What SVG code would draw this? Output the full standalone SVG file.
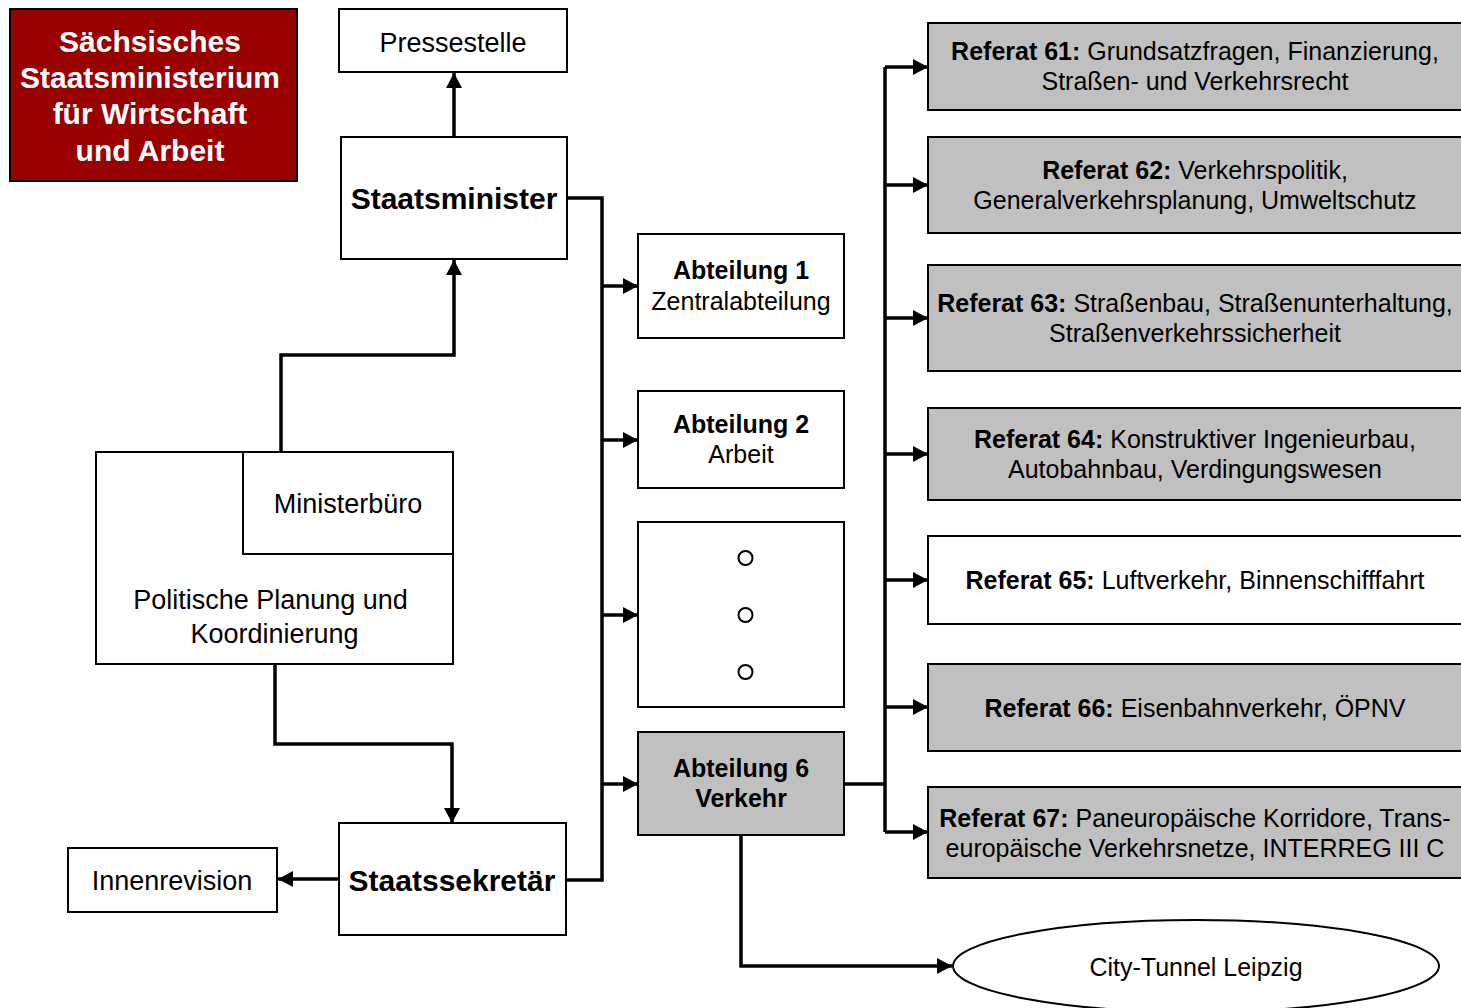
<svg xmlns="http://www.w3.org/2000/svg" width="1461" height="1008" viewBox="0 0 1461 1008">
  <style>
    text { font-family: "Liberation Sans", Arial, sans-serif; fill: #000; text-anchor: middle; }
    .box { fill: #fff; stroke: #000; stroke-width: 2; }
    .grey { fill: #c0c0c0; stroke: #000; stroke-width: 2; }
    .title { fill: #990000; stroke: #000; stroke-width: 2; }
    .t30b { font-size: 30px; font-weight: bold; }
    .t27 { font-size: 27px; }
    .t25 { font-size: 25px; }
    .b { font-weight: bold; }
    .white { fill: #fff; }
    .link { fill: none; stroke: #000; stroke-width: 3.5; stroke-linejoin: miter; }
    .dot { fill: #fff; stroke: #000; stroke-width: 2; }
  </style>
  <defs>
    <marker id="arrow" markerUnits="userSpaceOnUse" markerWidth="16" markerHeight="16" refX="15" refY="8" orient="auto">
      <path d="M0,0 L15,8 L0,16 z" fill="#000"/>
    </marker>
  </defs>

  <rect width="1461" height="1008" fill="#fff"/>

  <!-- connectors -->
  <g id="connectors">
    <!-- Staatsminister to Pressestelle -->
    <path class="link" d="M454,137 L454,73" marker-end="url(#arrow)"/>
    <!-- Ministerbüro up to Staatsminister -->
    <path class="link" d="M281,452 L281,355 L454,355 L454,260" marker-end="url(#arrow)"/>
    <!-- Politische Planung down to Staatssekretär -->
    <path class="link" d="M275,664 L275,744 L452,744 L452,823" marker-end="url(#arrow)"/>
    <!-- Staatssekretär to Innenrevision -->
    <path class="link" d="M339,879 L278,879" marker-end="url(#arrow)"/>
    <!-- main bus to the departments -->
    <path class="link" d="M567,198 L602,198 L602,880 L566,880"/>
    <path class="link" d="M602,286 L638,286" marker-end="url(#arrow)"/>
    <path class="link" d="M602,440 L638,440" marker-end="url(#arrow)"/>
    <path class="link" d="M602,615 L638,615" marker-end="url(#arrow)"/>
    <path class="link" d="M602,784 L638,784" marker-end="url(#arrow)"/>
    <!-- Abteilung 6 bus to the Referate -->
    <path class="link" d="M844,784 L885,784"/>
    <path class="link" d="M885,832 L885,67"/>
    <path class="link" d="M885,67 L928,67" marker-end="url(#arrow)"/>
    <path class="link" d="M885,185 L928,185" marker-end="url(#arrow)"/>
    <path class="link" d="M885,318 L928,318" marker-end="url(#arrow)"/>
    <path class="link" d="M885,454 L928,454" marker-end="url(#arrow)"/>
    <path class="link" d="M885,580 L928,580" marker-end="url(#arrow)"/>
    <path class="link" d="M885,707 L928,707" marker-end="url(#arrow)"/>
    <path class="link" d="M885,832 L928,832" marker-end="url(#arrow)"/>
    <!-- Abteilung 6 to City-Tunnel -->
    <path class="link" d="M741,835 L741,966 L952,966" marker-end="url(#arrow)"/>
  </g>

  <g id="ministry">
    <rect class="title" x="10" y="9" width="287" height="172"/>
    <text class="t30b white" x="150" y="52">Sächsisches</text>
    <text class="t30b white" x="150" y="88">Staatsministerium</text>
    <text class="t30b white" x="150" y="124">für Wirtschaft</text>
    <text class="t30b white" x="150" y="161">und Arbeit</text>
  </g>

  <g id="pressestelle">
    <rect class="box" x="339" y="9" width="228" height="63"/>
    <text class="t27" x="453" y="52">Pressestelle</text>
  </g>

  <g id="staatsminister">
    <rect class="box" x="341" y="137" width="226" height="122"/>
    <text class="t30b" x="454" y="209">Staatsminister</text>
  </g>

  <g id="planung">
    <rect class="box" x="96" y="452" width="357" height="212"/>
    <text class="t27" x="270.5" y="609">Politische Planung und</text>
    <text class="t27" x="274.5" y="643">Koordinierung</text>
  </g>

  <g id="ministerbuero">
    <rect class="box" x="243" y="452" width="210" height="102"/>
    <text class="t27" x="348" y="513">Ministerbüro</text>
  </g>

  <g id="staatssekretaer">
    <rect class="box" x="339" y="823" width="227" height="112"/>
    <text class="t30b" x="452" y="891">Staatssekretär</text>
  </g>

  <g id="innenrevision">
    <rect class="box" x="68" y="848" width="209" height="64"/>
    <text class="t27" x="172" y="890">Innenrevision</text>
  </g>

  <g id="abteilung1">
    <rect class="box" x="638" y="234" width="206" height="104"/>
    <text class="t25 b" x="741" y="279">Abteilung 1</text>
    <text class="t25" x="741" y="310">Zentralabteilung</text>
  </g>

  <g id="abteilung2">
    <rect class="box" x="638" y="391" width="206" height="97"/>
    <text class="t25 b" x="741" y="433">Abteilung 2</text>
    <text class="t25" x="741" y="463">Arbeit</text>
  </g>

  <g id="weitere-abteilungen">
    <rect class="box" x="638" y="522" width="206" height="185"/>
    <circle class="dot" cx="745.5" cy="558" r="7"/>
    <circle class="dot" cx="745.5" cy="615" r="7"/>
    <circle class="dot" cx="745.5" cy="672" r="7"/>
  </g>

  <g id="abteilung6">
    <rect class="grey" x="638" y="732" width="206" height="103"/>
    <text class="t25 b" x="741" y="777">Abteilung 6</text>
    <text class="t25 b" x="741" y="807">Verkehr</text>
  </g>

  <g id="referat61">
    <rect class="grey" x="928" y="23" width="534" height="87"/>
    <text class="t25" x="1195" y="60"><tspan class="b">Referat 61:</tspan> Grundsatzfragen, Finanzierung,</text>
    <text class="t25" x="1195" y="90">Straßen- und Verkehrsrecht</text>
  </g>

  <g id="referat62">
    <rect class="grey" x="928" y="137" width="534" height="96"/>
    <text class="t25" x="1195" y="179"><tspan class="b">Referat 62:</tspan> Verkehrspolitik,</text>
    <text class="t25" x="1195" y="209">Generalverkehrsplanung, Umweltschutz</text>
  </g>

  <g id="referat63">
    <rect class="grey" x="928" y="265" width="534" height="106"/>
    <text class="t25" x="1195" y="312"><tspan class="b">Referat 63:</tspan> Straßenbau, Straßenunterhaltung,</text>
    <text class="t25" x="1195" y="342">Straßenverkehrssicherheit</text>
  </g>

  <g id="referat64">
    <rect class="grey" x="928" y="408" width="534" height="92"/>
    <text class="t25" x="1195" y="448"><tspan class="b">Referat 64:</tspan> Konstruktiver Ingenieurbau,</text>
    <text class="t25" x="1195" y="478">Autobahnbau, Verdingungswesen</text>
  </g>

  <g id="referat65">
    <rect class="box" x="928" y="536" width="534" height="88"/>
    <text class="t25" x="1195" y="589"><tspan class="b">Referat 65:</tspan> Luftverkehr, Binnenschifffahrt</text>
  </g>

  <g id="referat66">
    <rect class="grey" x="928" y="664" width="534" height="87"/>
    <text class="t25" x="1195" y="717"><tspan class="b">Referat 66:</tspan> Eisenbahnverkehr, ÖPNV</text>
  </g>

  <g id="referat67">
    <rect class="grey" x="928" y="787" width="534" height="91"/>
    <text class="t25" x="1195" y="827"><tspan class="b">Referat 67:</tspan> Paneuropäische Korridore, Trans-</text>
    <text class="t25" x="1195" y="857">europäische Verkehrsnetze, INTERREG III C</text>
  </g>

  <g id="city-tunnel">
    <ellipse class="box" cx="1196" cy="966" rx="243" ry="46"/>
    <text class="t25" x="1196" y="976">City-Tunnel Leipzig</text>
  </g>
</svg>
